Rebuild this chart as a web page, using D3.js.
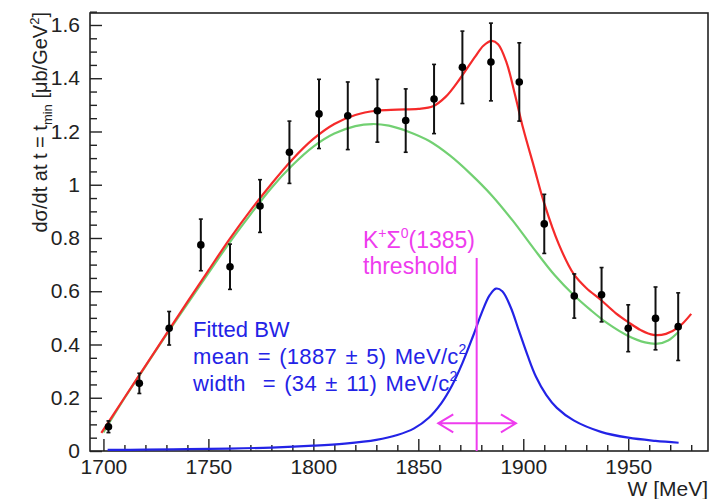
<!DOCTYPE html>
<html>
<head>
<meta charset="utf-8">
<script src="https://cdn.jsdelivr.net/npm/d3@7"></script>
<style>
  body { margin: 0; background: #fff; }
  svg text { font-family: "Liberation Sans", Arial, sans-serif; }
</style>
</head>
<body>
<div class="chart"></div>
<script>
// data points
var wPts = [1702.4, 1717.1, 1731.3, 1746.4, 1760.3, 1774.6, 1788.6, 1802.7, 1816.4, 1830.5, 1844.0,
            1857.5, 1871.0, 1884.6, 1898.1, 1910.0, 1924.3, 1937.3, 1950.0, 1963.0, 1973.8];
var sigma = [0.091, 0.254, 0.461, 0.774, 0.692, 0.920, 1.122, 1.266, 1.259, 1.278, 1.241,
             1.322, 1.441, 1.461, 1.386, 0.853, 0.582, 0.587, 0.461, 0.498, 0.467];
var sigmaErr = [0.022, 0.038, 0.063, 0.097, 0.085, 0.099, 0.117, 0.130, 0.127, 0.118, 0.119,
                0.130, 0.136, 0.146, 0.147, 0.111, 0.083, 0.102, 0.088, 0.118, 0.127];

// total fit (red)
var fitW = [1699, 1710, 1720, 1730, 1740, 1750, 1760, 1770, 1780, 1790, 1800, 1810, 1820, 1830, 1840,
            1850, 1857, 1863, 1870, 1877, 1881, 1885, 1888, 1892, 1896, 1900, 1905, 1910, 1917, 1924,
            1930, 1937, 1944, 1950, 1956, 1962, 1968, 1974, 1980];
var fitVal = [0.068, 0.200, 0.320, 0.440, 0.560, 0.678, 0.795, 0.903, 1.003, 1.095, 1.172, 1.228, 1.262, 1.278, 1.282,
              1.285, 1.295, 1.330, 1.400, 1.480, 1.522, 1.540, 1.528, 1.460, 1.340, 1.210, 1.070, 0.930, 0.775, 0.665,
              0.612, 0.567, 0.518, 0.484, 0.454, 0.436, 0.440, 0.465, 0.515];

// background (green)
var bgW = [1700, 1710, 1720, 1730, 1740, 1750, 1760, 1770, 1780, 1790, 1800, 1810, 1820, 1828, 1836,
           1845, 1855, 1865, 1875, 1885, 1895, 1905, 1915, 1924, 1932, 1940, 1950, 1958, 1964, 1969, 1974];
var bgVal = [0.070, 0.198, 0.318, 0.437, 0.553, 0.668, 0.782, 0.888, 0.988, 1.073, 1.143, 1.192, 1.220, 1.228, 1.222,
             1.200, 1.165, 1.110, 1.040, 0.960, 0.865, 0.760, 0.660, 0.586, 0.530, 0.480, 0.432, 0.408, 0.403, 0.415, 0.448];

// fitted Breit-Wigner (blue)
var bwW = [1702, 1720, 1740, 1760, 1780, 1800, 1815, 1830, 1840, 1848, 1855, 1861, 1866, 1871, 1876,
           1880, 1884, 1887, 1890, 1894, 1898, 1902, 1906, 1911, 1916, 1924, 1937, 1950, 1963, 1974];
var bwVal = [0.004, 0.005, 0.007, 0.009, 0.013, 0.020, 0.028, 0.042, 0.060, 0.085, 0.125, 0.180, 0.245, 0.330, 0.430,
             0.515, 0.585, 0.610, 0.600, 0.540, 0.450, 0.360, 0.280, 0.210, 0.162, 0.115, 0.072, 0.050, 0.038, 0.031];

var xTicks = [1700, 1750, 1800, 1850, 1900, 1950];
var yTicks = [0, 0.2, 0.4, 0.6, 0.8, 1, 1.2, 1.4, 1.6];

var threshW = 1877.8;      // K+ Sigma0(1385) threshold
var arrowW = [1859.5, 1896.5];

var svgWidth = 710;
var svgHeight = 499;
var margin = {top: 13, right: 2, bottom: 48, left: 90};
var width = svgWidth - margin.left - margin.right;
var height = svgHeight - margin.top - margin.bottom;

var svg = d3.select(".chart")
    .append("svg")
    .attr("width", svgWidth)
    .attr("height", svgHeight);

var chart = svg.append("g")
    .attr("transform", "translate(" + margin.left + "," + margin.top + ")");

var xScale = d3.scaleLinear().domain([1693.6, 1988]).range([0, width]);
var yScale = d3.scaleLinear().domain([0, 1.645]).range([height, 0]);

// frame
chart.append("rect")
    .attr("width", width)
    .attr("height", height)
    .attr("fill", "none")
    .attr("stroke", "#222")
    .attr("stroke-width", 1.6);

// minor ticks
var xMinor = d3.range(1700, 1990, 10).filter(function(d) { return d % 50 !== 0; });
var yMinor = d3.range(0, 1.66, 0.05).filter(function(d, i) { return i % 4 !== 0; });

chart.append("g")
    .attr("transform", "translate(0," + height + ")")
    .call(d3.axisBottom(xScale).tickValues(xMinor).tickFormat("").tickSizeInner(-6).tickSizeOuter(0))
    .call(function(g) { g.select(".domain").remove(); });

chart.append("g")
    .call(d3.axisLeft(yScale).tickValues(yMinor).tickFormat("").tickSizeInner(-7).tickSizeOuter(0))
    .call(function(g) { g.select(".domain").remove(); });

// major ticks + labels
var xAxis = chart.append("g")
    .attr("transform", "translate(0," + height + ")")
    .call(d3.axisBottom(xScale).tickValues(xTicks).tickSizeInner(-12).tickSizeOuter(0).tickPadding(5)
        .tickFormat(d3.format("d")));
xAxis.select(".domain").remove();
xAxis.selectAll("text").attr("font-size", 21).attr("fill", "#222").attr("dy", "0.85em");

var yAxis = chart.append("g")
    .call(d3.axisLeft(yScale).tickValues(yTicks).tickSizeInner(-12).tickSizeOuter(0).tickPadding(10)
        .tickFormat(function(d) { return String(+d.toFixed(1)); }));
yAxis.select(".domain").remove();
yAxis.selectAll("text").attr("font-size", 21).attr("fill", "#222");

chart.selectAll(".tick line").attr("stroke", "#222").attr("stroke-width", 1.4);

// axis titles
svg.append("text")
    .attr("x", 708)
    .attr("y", 496)
    .attr("text-anchor", "end")
    .attr("font-size", 21)
    .attr("fill", "#222")
    .text("W [MeV]");

var yTitle = svg.append("text")
    .attr("transform", "translate(47,12) rotate(-90)")
    .attr("text-anchor", "end")
    .attr("font-size", 20)
    .attr("fill", "#222");
yTitle.append("tspan").text("dσ/dt at t = t");
yTitle.append("tspan").attr("font-size", 13).attr("dy", 5).text("min");
yTitle.append("tspan").attr("dy", -5).text(" [μb/GeV");
yTitle.append("tspan").attr("font-size", 13).attr("dy", -8).text("2");
yTitle.append("tspan").attr("dy", 8).text("]");

// curves
var line = d3.line()
    .x(function(d) { return xScale(d[0]); })
    .y(function(d) { return yScale(d[1]); })
    .curve(d3.curveCatmullRom.alpha(0.5));

function pairs(xs, ys) {
    return xs.map(function(w, i) { return [w, ys[i]]; });
}

chart.append("path")
    .datum(pairs(bwW, bwVal))
    .attr("d", line)
    .attr("fill", "none")
    .attr("stroke", "#2323e6")
    .attr("stroke-width", 2.2);

chart.append("path")
    .datum(pairs(bgW, bgVal))
    .attr("d", line)
    .attr("fill", "none")
    .attr("stroke", "#72d072")
    .attr("stroke-width", 2.2);

chart.append("path")
    .datum(pairs(fitW, fitVal))
    .attr("d", line)
    .attr("fill", "none")
    .attr("stroke", "#f52a2a")
    .attr("stroke-width", 2.2);

// data points with error bars
var pts = chart.selectAll(".pt")
    .data(pairs(wPts, sigma))
    .enter()
    .append("g")
    .attr("class", "pt");

pts.append("line")
    .attr("x1", function(d) { return xScale(d[0]); })
    .attr("x2", function(d) { return xScale(d[0]); })
    .attr("y1", function(d, i) { return yScale(d[1] - sigmaErr[i]); })
    .attr("y2", function(d, i) { return yScale(d[1] + sigmaErr[i]); })
    .attr("stroke", "#111")
    .attr("stroke-width", 2);

pts.selectAll(".cap")
    .data(function(d, i) { return [[d[0], d[1] - sigmaErr[i]], [d[0], d[1] + sigmaErr[i]]]; })
    .enter()
    .append("line")
    .attr("x1", function(d) { return xScale(d[0]) - 2; })
    .attr("x2", function(d) { return xScale(d[0]) + 2; })
    .attr("y1", function(d) { return yScale(d[1]); })
    .attr("y2", function(d) { return yScale(d[1]); })
    .attr("stroke", "#111")
    .attr("stroke-width", 1.6);

pts.append("circle")
    .attr("cx", function(d) { return xScale(d[0]); })
    .attr("cy", function(d) { return yScale(d[1]); })
    .attr("r", 3.8)
    .attr("fill", "#000");

// threshold marker
var pink = "#ee3cee";
chart.append("line")
    .attr("x1", xScale(threshW))
    .attr("x2", xScale(threshW))
    .attr("y1", yScale(0))
    .attr("y2", yScale(0.725))
    .attr("stroke", pink)
    .attr("stroke-width", 2);

var ay = yScale(0.104);
chart.append("path")
    .attr("d", "M" + xScale(arrowW[0]) + "," + ay + "H" + xScale(arrowW[1]) +
        "M" + (xScale(arrowW[0]) + 15) + "," + (ay - 9) + "L" + xScale(arrowW[0]) + "," + ay +
        "L" + (xScale(arrowW[0]) + 15) + "," + (ay + 9) +
        "M" + (xScale(arrowW[1]) - 15) + "," + (ay - 9) + "L" + xScale(arrowW[1]) + "," + ay +
        "L" + (xScale(arrowW[1]) - 15) + "," + (ay + 9))
    .attr("fill", "none")
    .attr("stroke", pink)
    .attr("stroke-width", 2);

var kText = svg.append("text")
    .attr("x", 363)
    .attr("y", 248)
    .attr("font-size", 23)
    .attr("fill", pink);
kText.append("tspan").text("K");
kText.append("tspan").attr("font-size", 14).attr("dy", -10).text("+");
kText.append("tspan").attr("dy", 10).text("Σ");
kText.append("tspan").attr("font-size", 14).attr("dy", -10).text("0");
kText.append("tspan").attr("dy", 10).text("(1385)");

svg.append("text")
    .attr("x", 363)
    .attr("y", 274)
    .attr("font-size", 23)
    .attr("fill", pink)
    .text("threshold");

// fit result text
var blue = "#2323e6";
svg.append("text")
    .attr("x", 193)
    .attr("y", 337)
    .attr("font-size", 22)
    .attr("fill", blue)
    .text("Fitted BW");

var meanText = svg.append("text")
    .attr("x", 193)
    .attr("y", 364)
    .attr("font-size", 22)
    .attr("fill", blue)
    .attr("word-spacing", 2)
    .attr("letter-spacing", 0.3)
    .style("white-space", "pre");
meanText.append("tspan").text("mean = (1887 ± 5) MeV/c");
meanText.append("tspan").attr("font-size", 14).attr("dy", -10).text("2");

var widthText = svg.append("text")
    .attr("x", 193)
    .attr("y", 391)
    .attr("font-size", 22)
    .attr("fill", blue)
    .attr("word-spacing", 2)
    .attr("letter-spacing", 0.3)
    .style("white-space", "pre");
widthText.append("tspan").text("width  = (34 ± 11) MeV/c");
widthText.append("tspan").attr("font-size", 14).attr("dy", -10).text("2");
</script>
</body>
</html>
